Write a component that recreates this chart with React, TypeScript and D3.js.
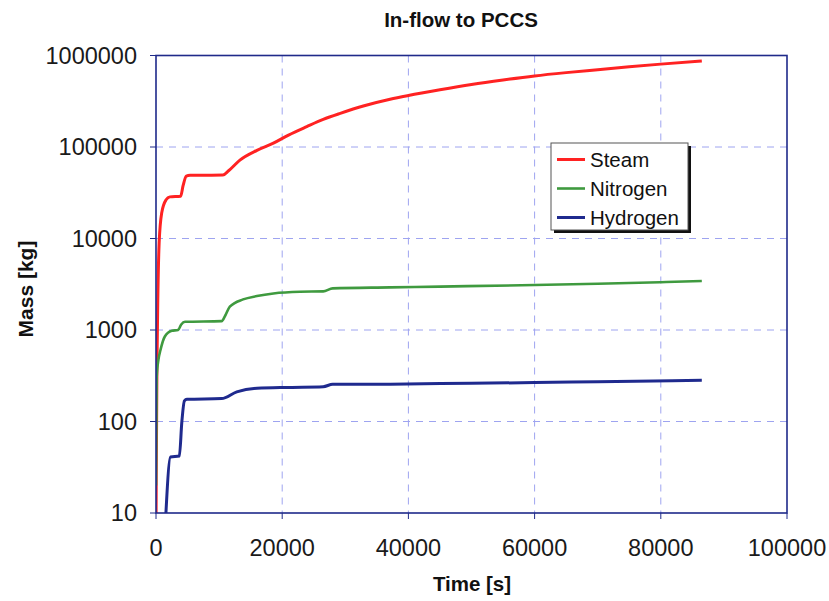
import React from "react";
import * as d3 from "d3";

// Cumulative in-flow to the PCCS: time [s] and mass [kg] per gas
const steamT = [0, 40, 150, 300, 500, 900, 1600, 2200, 3900, 4300, 4800, 5400, 10600, 11500, 13300, 16000, 18600, 21000, 23900, 26500, 29200, 33000, 37100, 40000, 45000, 50000, 55000, 60000, 65000, 70000, 75000, 80000, 86500];
const steamM = [5, 25, 400, 2500, 9000, 19000, 26500, 28500, 29000, 38000, 48000, 49000, 49500, 55000, 72000, 92000, 110000, 135000, 167000, 200000, 233000, 282000, 332000, 365000, 422000, 482000, 540000, 598000, 650000, 700000, 752000, 805000, 870000];

const nitrogenT = [0, 100, 400, 700, 1400, 2500, 3500, 4000, 4600, 10400, 11000, 11700, 13800, 16000, 18600, 22800, 26500, 28000, 37100, 45000, 60000, 70000, 80000, 86500];
const nitrogenM = [20, 300, 480, 600, 850, 980, 1000, 1150, 1230, 1250, 1450, 1800, 2160, 2350, 2510, 2620, 2640, 2850, 2920, 2980, 3100, 3200, 3330, 3430];

const hydrogenT = [1500, 2300, 3700, 4100, 4500, 4900, 10400, 12800, 16000, 21200, 26500, 28000, 37100, 50000, 60000, 70000, 86500];
const hydrogenM = [8, 41, 42, 100, 168, 175, 178, 211, 231, 236, 240, 255, 256, 262, 266, 272, 282];

const seriesNames = ["Steam", "Nitrogen", "Hydrogen"];
const seriesColors = ["#ff2222", "#3f9a3f", "#1f2a8e"];

const xTicks = [0, 20000, 40000, 60000, 80000, 100000];
const yTicks = [10, 100, 1000, 10000, 100000, 1000000];

const W = 829;
const H = 601;
const M = { left: 156, right: 787, top: 55.5, bottom: 513 };

export default function App() {
  const x = d3.scaleLinear().domain([0, 100000]).range([M.left, M.right]);
  const y = d3.scaleLog().domain([10, 1000000]).range([M.bottom, M.top]);

  const line = d3
    .line<[number, number]>()
    .x((d) => x(d[0]))
    .y((d) => y(Math.max(d[1], 1)))
    .curve(d3.curveMonotoneX);

  const series = [
    steamT.map((t, i) => [t, steamM[i]] as [number, number]),
    nitrogenT.map((t, i) => [t, nitrogenM[i]] as [number, number]),
    hydrogenT.map((t, i) => [t, hydrogenM[i]] as [number, number]),
  ];

  const font = "Arial, 'Liberation Sans', Helvetica, sans-serif";
  const frame = "#1f2a8a";
  const grid = "#9ea4f0";

  const legX = 551;
  const legY = 143;
  const legW = 137;
  const legH = 87;

  return (
    <svg
      width={W}
      height={H}
      style={{ position: "absolute", left: 0, top: 0, background: "#fff" }}
      fontFamily={font}
    >
      <defs>
        <clipPath id="plotClip">
          <rect x={M.left} y={M.top} width={M.right - M.left} height={M.bottom - M.top} />
        </clipPath>
      </defs>

      {/* grid */}
      {yTicks.slice(1, -1).map((v) => (
        <line key={"gy" + v} x1={M.left} x2={M.right} y1={y(v)} y2={y(v)} stroke={grid} strokeWidth={1} strokeDasharray="7,6" />
      ))}
      {xTicks.slice(1, -1).map((v) => (
        <line key={"gx" + v} x1={x(v)} x2={x(v)} y1={M.top} y2={M.bottom} stroke={grid} strokeWidth={1} strokeDasharray="7,6" />
      ))}

      {/* series */}
      <g clipPath="url(#plotClip)">
        {series.map((s, i) => (
          <path key={seriesNames[i]} d={line(s) || ""} fill="none" stroke={seriesColors[i]} strokeWidth={i === 1 ? 2.6 : 3} strokeLinejoin="round" />
        ))}
      </g>

      {/* frame */}
      <rect x={M.left} y={M.top} width={M.right - M.left} height={M.bottom - M.top} fill="none" stroke={frame} strokeWidth={1.6} />

      {/* y axis ticks and labels */}
      {yTicks.map((v) => (
        <g key={"ty" + v}>
          <line x1={M.left - 6} x2={M.left} y1={y(v)} y2={y(v)} stroke={frame} strokeWidth={1} />
          <text x={137} y={y(v)} dy="0.35em" textAnchor="end" fontSize={23.5} fill="#1a1a1a">
            {v}
          </text>
        </g>
      ))}

      {/* x axis ticks and labels */}
      {xTicks.map((v) => (
        <g key={"tx" + v}>
          <line x1={x(v)} x2={x(v)} y1={M.bottom} y2={M.bottom + 6} stroke={frame} strokeWidth={1} />
          <text x={x(v)} y={556} textAnchor="middle" fontSize={23.5} fill="#1a1a1a">
            {v}
          </text>
        </g>
      ))}

      {/* titles */}
      <text x={461} y={27} textAnchor="middle" fontSize={20.5} fontWeight="bold" fill="#111">
        In-flow to PCCS
      </text>
      <text x={472} y={591} textAnchor="middle" fontSize={20.5} fontWeight="bold" fill="#111">
        Time [s]
      </text>
      <text transform={`translate(33,${289}) rotate(-90)`} textAnchor="middle" fontSize={21} fontWeight="bold" fill="#111">
        Mass [kg]
      </text>

      {/* legend */}
      <rect x={legX + 3} y={legY + 3} width={legW} height={legH} fill="#111" />
      <rect x={legX} y={legY} width={legW} height={legH} fill="#fff" stroke="#555" strokeWidth={1} />
      {seriesNames.map((name, i) => {
        const cy = legY + 16.5 + i * 29;
        return (
          <g key={"leg" + name}>
            <line x1={557} x2={585} y1={cy} y2={cy} stroke={seriesColors[i]} strokeWidth={i === 1 ? 2.6 : 3} />
            <text x={590} y={cy} dy="0.35em" fontSize={20.5} fill="#111">
              {name}
            </text>
          </g>
        );
      })}
    </svg>
  );
}
